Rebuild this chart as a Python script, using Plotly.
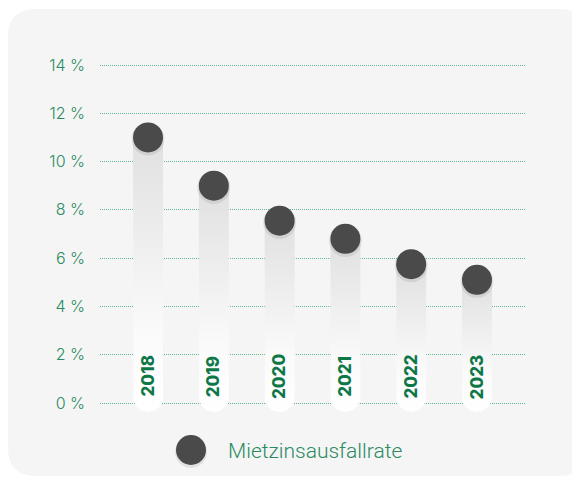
import numpy as np
import plotly.graph_objects as go

years = ["2018", "2019", "2020", "2021", "2022", "2023"]
rates = [11.0, 9.0, 7.55, 6.8, 5.75, 5.1]
tick_vals = [0, 2, 4, 6, 8, 10, 12, 14]
tick_text = ["0 %", "2 %", "4 %", "6 %", "8 %", "10 %", "12 %", "14 %"]
series_name = "Mietzinsausfallrate"

OFF = 8  # page body margin
W, H = 572, 473
# plot area in page pixels: x 100..525, y 60..415
L, T = 100 - OFF, 60 - OFF
PW, PH = 425, 355
R = W - L - PW
B = H - T - PH
YMIN, YMAX = -0.497, 14.207
XMIN, XMAX = -0.73, 5.73
px_per_x = PW / (XMAX - XMIN)
px_per_y = PH / (YMAX - YMIN)

GREEN = "#2a8a62"
DARK_GREEN = "#0e7748"
DOT = "#4a4a4a"


def paper(px, py):
    # page pixel -> paper coords
    return (px - OFF - L) / PW, 1 - (py - OFF - T) / PH


fig = go.Figure()

half_w = 15 / px_per_x
r_y = 15 / px_per_y
bottom = -0.37
for i, v in enumerate(rates):
    x = i
    ang = np.linspace(np.pi, 2 * np.pi, 30)
    arc_x = x + half_w * np.cos(ang)
    arc_y = bottom + r_y + r_y * np.sin(ang)
    xs = [x - half_w] + list(arc_x) + [x + half_w, x - half_w]
    ys = [v] + list(arc_y) + [v, v]
    fig.add_trace(go.Scatter(
        x=xs, y=ys, mode="lines", fill="toself",
        line=dict(width=0, color="rgba(0,0,0,0)"),
        fillgradient=dict(type="vertical", start=bottom, stop=v,
                          colorscale=[[0, "#ffffff"], [0.3, "#fafafa"], [1, "#e0e0e0"]]),
        hoverinfo="skip", showlegend=False))

xi = list(range(len(years)))
fig.add_trace(go.Scatter(x=xi, y=[v - 0.07 for v in rates], mode="markers",
                         marker=dict(size=33, color="rgba(0,0,0,0.08)"),
                         hoverinfo="skip", showlegend=False))
fig.add_trace(go.Scatter(x=xi, y=rates, mode="markers", name=series_name,
                         marker=dict(size=30, color=DOT), showlegend=False))

for i, y in enumerate(years):
    fig.add_annotation(x=i, y=1.1, xref="x", yref="y", text=y, showarrow=False,
                       textangle=-90, xanchor="center", yanchor="middle",
                       font=dict(family="Inter", size=17, color=DARK_GREEN, weight=800))

# background rounded rect (page px)
x0, y0, x1, y1, rr = 8, 9, 587, 476, 28
def P(px, py):
    a, b = paper(px, py)
    return f"{a:.5f},{b:.5f}"
path = (f"M {P(x0+rr, y0)} L {P(x1-rr, y0)} Q {P(x1, y0)} {P(x1, y0+rr)} "
        f"L {P(x1, y1-rr)} Q {P(x1, y1)} {P(x1-rr, y1)} "
        f"L {P(x0+rr, y1)} Q {P(x0, y1)} {P(x0, y1-rr)} "
        f"L {P(x0, y0+rr)} Q {P(x0, y0)} {P(x0+rr, y0)} Z")
fig.add_shape(type="path", path=path, xref="paper", yref="paper",
              fillcolor="#f5f5f5", line=dict(width=0), layer="below")

# legend
lx, ly, lr = 191, 450, 15
a0, b0 = paper(lx - lr - 1, ly - lr + 1)
a1, b1 = paper(lx + lr + 1, ly + lr + 3)
fig.add_shape(type="circle", xref="paper", yref="paper", x0=a0, y0=b1, x1=a1, y1=b0,
              fillcolor="rgba(0,0,0,0.08)", line=dict(width=0))
a0, b0 = paper(lx - lr, ly - lr)
a1, b1 = paper(lx + lr, ly + lr)
fig.add_shape(type="circle", xref="paper", yref="paper", x0=a0, y0=b1, x1=a1, y1=b0,
              fillcolor=DOT, line=dict(width=0))
ta, tb = paper(226, 451)
fig.add_annotation(x=ta, y=tb, xref="paper", yref="paper", text=series_name,
                   showarrow=False, xanchor="left", yanchor="middle",
                   font=dict(family="Roboto", size=21, color=GREEN, weight=300))

fig.update_xaxes(range=[XMIN, XMAX], showgrid=False, zeroline=False,
                 showticklabels=False, showline=False, fixedrange=True)
fig.update_yaxes(range=[YMIN, YMAX], tickvals=tick_vals, ticktext=tick_text,
                 showgrid=True, gridcolor="#5fb892", griddash="1px,1px", gridwidth=1,
                 zeroline=False, showline=False, ticklabelstandoff=14,
                 tickfont=dict(family="Inter", size=16, color=GREEN, weight=300))

fig.update_layout(width=W, height=H, margin=dict(l=L, r=R, t=T, b=B),
                  paper_bgcolor="#ffffff", plot_bgcolor="rgba(0,0,0,0)",
                  showlegend=False)

fig.write_html("out.html")
